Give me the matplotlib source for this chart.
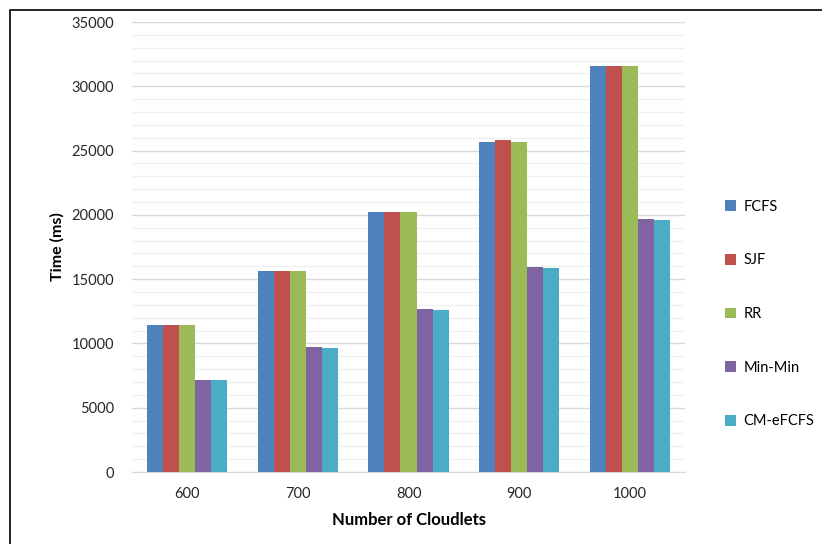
import numpy as np
import matplotlib
matplotlib.use("Agg")
import matplotlib.pyplot as plt
from matplotlib.patches import Rectangle

plt.rcParams["font.family"] = ["Lato", "DejaVu Sans"]

# makespan per scheduler vs. number of cloudlets
cloudlets = ["600", "700", "800", "900", "1000"]
algos = ["FCFS", "SJF", "RR", "Min-Min", "CM-eFCFS"]
fcfs = [11400, 15600, 20200, 25700, 31600]
sjf = [11400, 15600, 20200, 25800, 31600]
rr = [11400, 15600, 20200, 25700, 31600]
minmin = [7150, 9750, 12700, 15980, 19700]
cm_efcfs = [7150, 9650, 12600, 15860, 19600]
series = [fcfs, sjf, rr, minmin, cm_efcfs]
colors = ["#4F81BD", "#C0504D", "#9BBB59", "#8064A2", "#4BACC6"]

fig = plt.figure(figsize=(8.22, 5.44), dpi=100)
W, H = 822, 544
ax = fig.add_axes([132 / W, 1 - 472 / H, (685 - 132) / W, (472 - 22) / H])

x = np.arange(len(cloudlets))
bw = 0.145
for i, (name, vals, c) in enumerate(zip(algos, series, colors)):
    ax.bar(x + (i - 2) * bw, vals, bw, color=c, label=name, zorder=3,
           edgecolor="none")

ax.set_xlim(-0.5, len(cloudlets) - 0.5)
ax.set_ylim(0, 35000)
ax.set_yticks(range(0, 35001, 5000))
ax.set_yticks(range(0, 35001, 1000), minor=True)
ax.grid(axis="y", which="major", color="#d9d9d9", lw=1.0, zorder=0)
ax.grid(axis="y", which="minor", color="#f0f0f0", lw=1.0, zorder=0)
ax.set_xticks(x)
ax.set_xticklabels(cloudlets)
ax.tick_params(axis="both", which="both", length=0, labelsize=10.5, colors="#262626")
ax.tick_params(axis="y", pad=13)
ax.tick_params(axis="x", pad=11)
for s in ("top", "right", "left"):
    ax.spines[s].set_visible(False)
ax.spines["bottom"].set_color("#d9d9d9")

ax.set_ylabel("Time (ms)", fontsize=11.5, fontweight="bold", labelpad=5)
ax.set_xlabel("Number of Cloudlets", fontsize=12, fontweight="bold", labelpad=8)

fig.legend(loc="center left", bbox_to_anchor=(712 / W, 1 - 314 / H), frameon=False,
           fontsize=10.5, handlelength=0.75, handleheight=0.75, handletextpad=0.5,
           labelspacing=2.72)

# outer frame of the chart area
fig.patches.append(Rectangle((10 / W, -0.05), 1.2, 1 - 10 / H + 0.05,
                             transform=fig.transFigure, fill=False,
                             edgecolor="black", lw=1.2))

fig.savefig("out.png", dpi=100)
